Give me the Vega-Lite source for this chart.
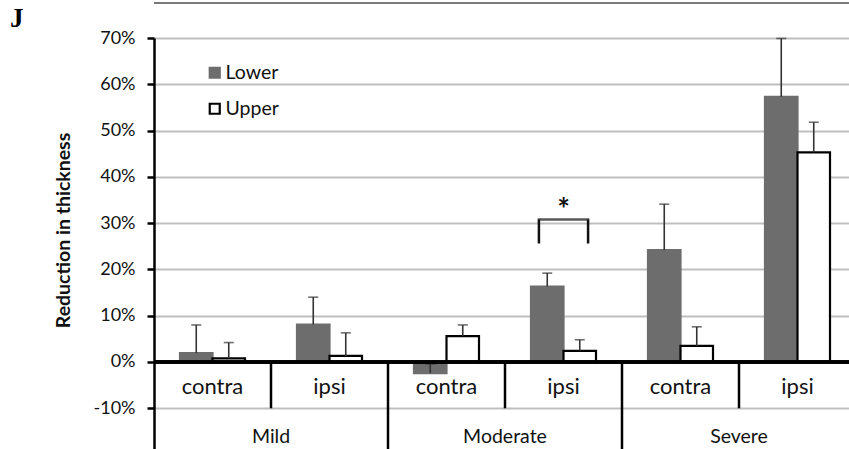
{
  "$schema": "https://vega.github.io/schema/vega-lite/v6.json",
  "width": 695,
  "height": 411,
  "autosize": "none",
  "padding": {"left": 154, "top": 38, "right": 0, "bottom": 0},
  "background": "white",
  "config": {"view": {"stroke": null}},
  "title": {"text": "J", "anchor": "start", "frame": "group", "dx": -144, "dy": 52, "offset": 0, "baseline": "alphabetic", "font": "Liberation Serif", "fontSize": 27, "fontWeight": "bold", "color": "#000"},
  "data": {"values": [
    {"group": "Mild", "sub": "Mild contra", "label": "contra", "series": "Lower", "value": 1.9, "err": 8.0},
    {"group": "Mild", "sub": "Mild contra", "label": "contra", "series": "Upper", "value": 0.8, "err": 4.2},
    {"group": "Mild", "sub": "Mild ipsi", "label": "ipsi", "series": "Lower", "value": 8.1, "err": 14.0},
    {"group": "Mild", "sub": "Mild ipsi", "label": "ipsi", "series": "Upper", "value": 1.3, "err": 6.3},
    {"group": "Moderate", "sub": "Moderate contra", "label": "contra", "series": "Lower", "value": -2.4, "err": -0.4},
    {"group": "Moderate", "sub": "Moderate contra", "label": "contra", "series": "Upper", "value": 5.6, "err": 8.0},
    {"group": "Moderate", "sub": "Moderate ipsi", "label": "ipsi", "series": "Lower", "value": 16.3, "err": 19.2},
    {"group": "Moderate", "sub": "Moderate ipsi", "label": "ipsi", "series": "Upper", "value": 2.4, "err": 4.8},
    {"group": "Severe", "sub": "Severe contra", "label": "contra", "series": "Lower", "value": 24.2, "err": 34.1},
    {"group": "Severe", "sub": "Severe contra", "label": "contra", "series": "Upper", "value": 3.5, "err": 7.6},
    {"group": "Severe", "sub": "Severe ipsi", "label": "ipsi", "series": "Lower", "value": 57.3, "err": 69.9},
    {"group": "Severe", "sub": "Severe ipsi", "label": "ipsi", "series": "Upper", "value": 45.3, "err": 51.8}
  ]},
  "encoding": {
    "x": {"field": "sub", "type": "nominal", "sort": null,
      "scale": {"domain": ["Mild contra", "Mild ipsi", "Moderate contra", "Moderate ipsi", "Severe contra", "Severe ipsi"], "range": [0, 702], "paddingInner": 0, "paddingOuter": 0},
      "axis": null}
  },
  "resolve": {"scale": {"xOffset": "independent"}},
  "layer": [
    {
      "mark": {"type": "rule", "clip": false, "color": "#7a7a7a", "strokeWidth": 1.5},
      "encoding": {"x": null, "y": {"datum": 77.6, "type": "quantitative"}}
    },
    {
      "mark": {"type": "bar", "strokeWidth": 2.2},
      "encoding": {
        "y": {"field": "value", "type": "quantitative",
          "scale": {"domain": [-18.8, 70], "nice": false, "zero": false},
          "axis": {"title": "Reduction in thickness", "values": [-10, 0, 10, 20, 30, 40, 50, 60, 70],
            "labelExpr": "datum.value + '%'", "grid": true, "gridColor": "#bfbfbf", "gridWidth": 2,
            "domainColor": "#000", "domainWidth": 2.5, "tickColor": "#000", "tickWidth": 2.5, "tickSize": 7,
            "labelPadding": 12, "labelFont": "Lato", "labelFontSize": 18, "labelColor": "#111",
            "titleFont": "Lato", "titleFontSize": 19.5, "titleFontWeight": "bold", "titleColor": "#111",
            "titleAngle": 270, "titleBaseline": "bottom", "titleAlign": "center", "titleX": -81, "titleY": 192}},
        "y2": {"datum": 0},
        "xOffset": {"field": "series", "type": "nominal", "scale": {"domain": ["Lower", "Upper"], "paddingInner": 0, "paddingOuter": 0.8}},
        "fill": {"field": "series", "type": "nominal", "scale": {"domain": ["Lower", "Upper"], "range": ["#6d6d6d", "#ffffff"]},
          "legend": {"title": null, "orient": "none", "legendX": 51, "legendY": 25, "padding": 0, "symbolType": "square", "symbolSize": 100, "symbolStrokeWidth": 2.2, "labelFont": "Lato", "labelFontSize": 19.5, "labelColor": "#111", "labelOffset": 1, "rowPadding": 15}},
        "stroke": {"field": "series", "type": "nominal", "scale": {"domain": ["Lower", "Upper"], "range": ["#6d6d6d", "#000000"]}}
      }
    },
    {
      "mark": {"type": "rule", "color": "#333", "strokeWidth": 1.6},
      "encoding": {
        "y": {"field": "value", "type": "quantitative"},
        "y2": {"field": "err"},
        "xOffset": {"field": "series", "type": "nominal", "scale": {"domain": ["Lower", "Upper"], "paddingInner": 0, "paddingOuter": 0.8}}
      }
    },
    {
      "mark": {"type": "tick", "orient": "horizontal", "size": 10, "thickness": 1.6, "color": "#333"},
      "encoding": {
        "y": {"field": "err", "type": "quantitative"},
        "xOffset": {"field": "series", "type": "nominal", "scale": {"domain": ["Lower", "Upper"], "paddingInner": 0, "paddingOuter": 0.8}}
      }
    },
    {
      "mark": {"type": "rule", "color": "#000", "strokeWidth": 2.5},
      "encoding": {"x": null, "y": {"datum": 0, "type": "quantitative"}}
    },
    {
      "transform": [{"filter": "datum.series == 'Lower' && datum.label == 'ipsi'"}],
      "mark": {"type": "rule", "color": "#000", "strokeWidth": 2.5},
      "encoding": {
        "x": {"field": "sub", "type": "nominal", "bandPosition": 0},
        "y": {"datum": 0, "type": "quantitative"},
        "y2": {"datum": -10}
      }
    },
    {
      "transform": [{"filter": "datum.series == 'Lower' && datum.label == 'contra' && datum.group != 'Mild'"}],
      "mark": {"type": "rule", "color": "#000", "strokeWidth": 2.5},
      "encoding": {
        "x": {"field": "sub", "type": "nominal", "bandPosition": 0},
        "y": {"datum": 0, "type": "quantitative"},
        "y2": {"datum": -18.8}
      }
    },
    {
      "transform": [{"filter": "datum.series == 'Lower'"}],
      "mark": {"type": "text", "font": "Lato", "fontSize": 22, "color": "#111", "baseline": "alphabetic", "align": "center"},
      "encoding": {
        "text": {"field": "label"},
        "y": {"datum": -6.9, "type": "quantitative"}
      }
    },
    {
      "transform": [{"filter": "datum.series == 'Lower' && datum.label == 'ipsi'"}],
      "mark": {"type": "text", "font": "Lato", "fontSize": 19.5, "color": "#111", "baseline": "alphabetic", "align": "center"},
      "encoding": {
        "x": {"field": "sub", "type": "nominal", "bandPosition": 0},
        "text": {"field": "group"},
        "y": {"datum": -17.4, "type": "quantitative"}
      }
    },
    {
      "data": {"values": [
        {"sub": "Moderate ipsi", "side": "L", "low": 25.6, "high": 30.8},
        {"sub": "Moderate ipsi", "side": "R", "low": 25.6, "high": 30.8}
      ]},
      "mark": {"type": "rule", "color": "#111", "strokeWidth": 2.5},
      "encoding": {
        "y": {"field": "low", "type": "quantitative"},
        "y2": {"field": "high"},
        "xOffset": {"field": "side", "type": "nominal", "scale": {"domain": ["L", "R"], "paddingInner": 0, "paddingOuter": 0.19}}
      }
    },
    {
      "data": {"values": [{"sub": "Moderate ipsi", "high": 30.8, "mark": "*"}]},
      "mark": {"type": "tick", "orient": "horizontal", "size": 51.5, "thickness": 2.5, "color": "#111"},
      "encoding": {"y": {"field": "high", "type": "quantitative"}}
    },
    {
      "data": {"values": [{"sub": "Moderate ipsi", "pos": 30.6, "mark": "*"}]},
      "mark": {"type": "text", "font": "Lato", "fontSize": 30, "fontWeight": "bold", "color": "#111", "baseline": "alphabetic", "align": "center"},
      "encoding": {"y": {"field": "pos", "type": "quantitative"}, "text": {"field": "mark"}}
    }
  ]
}
